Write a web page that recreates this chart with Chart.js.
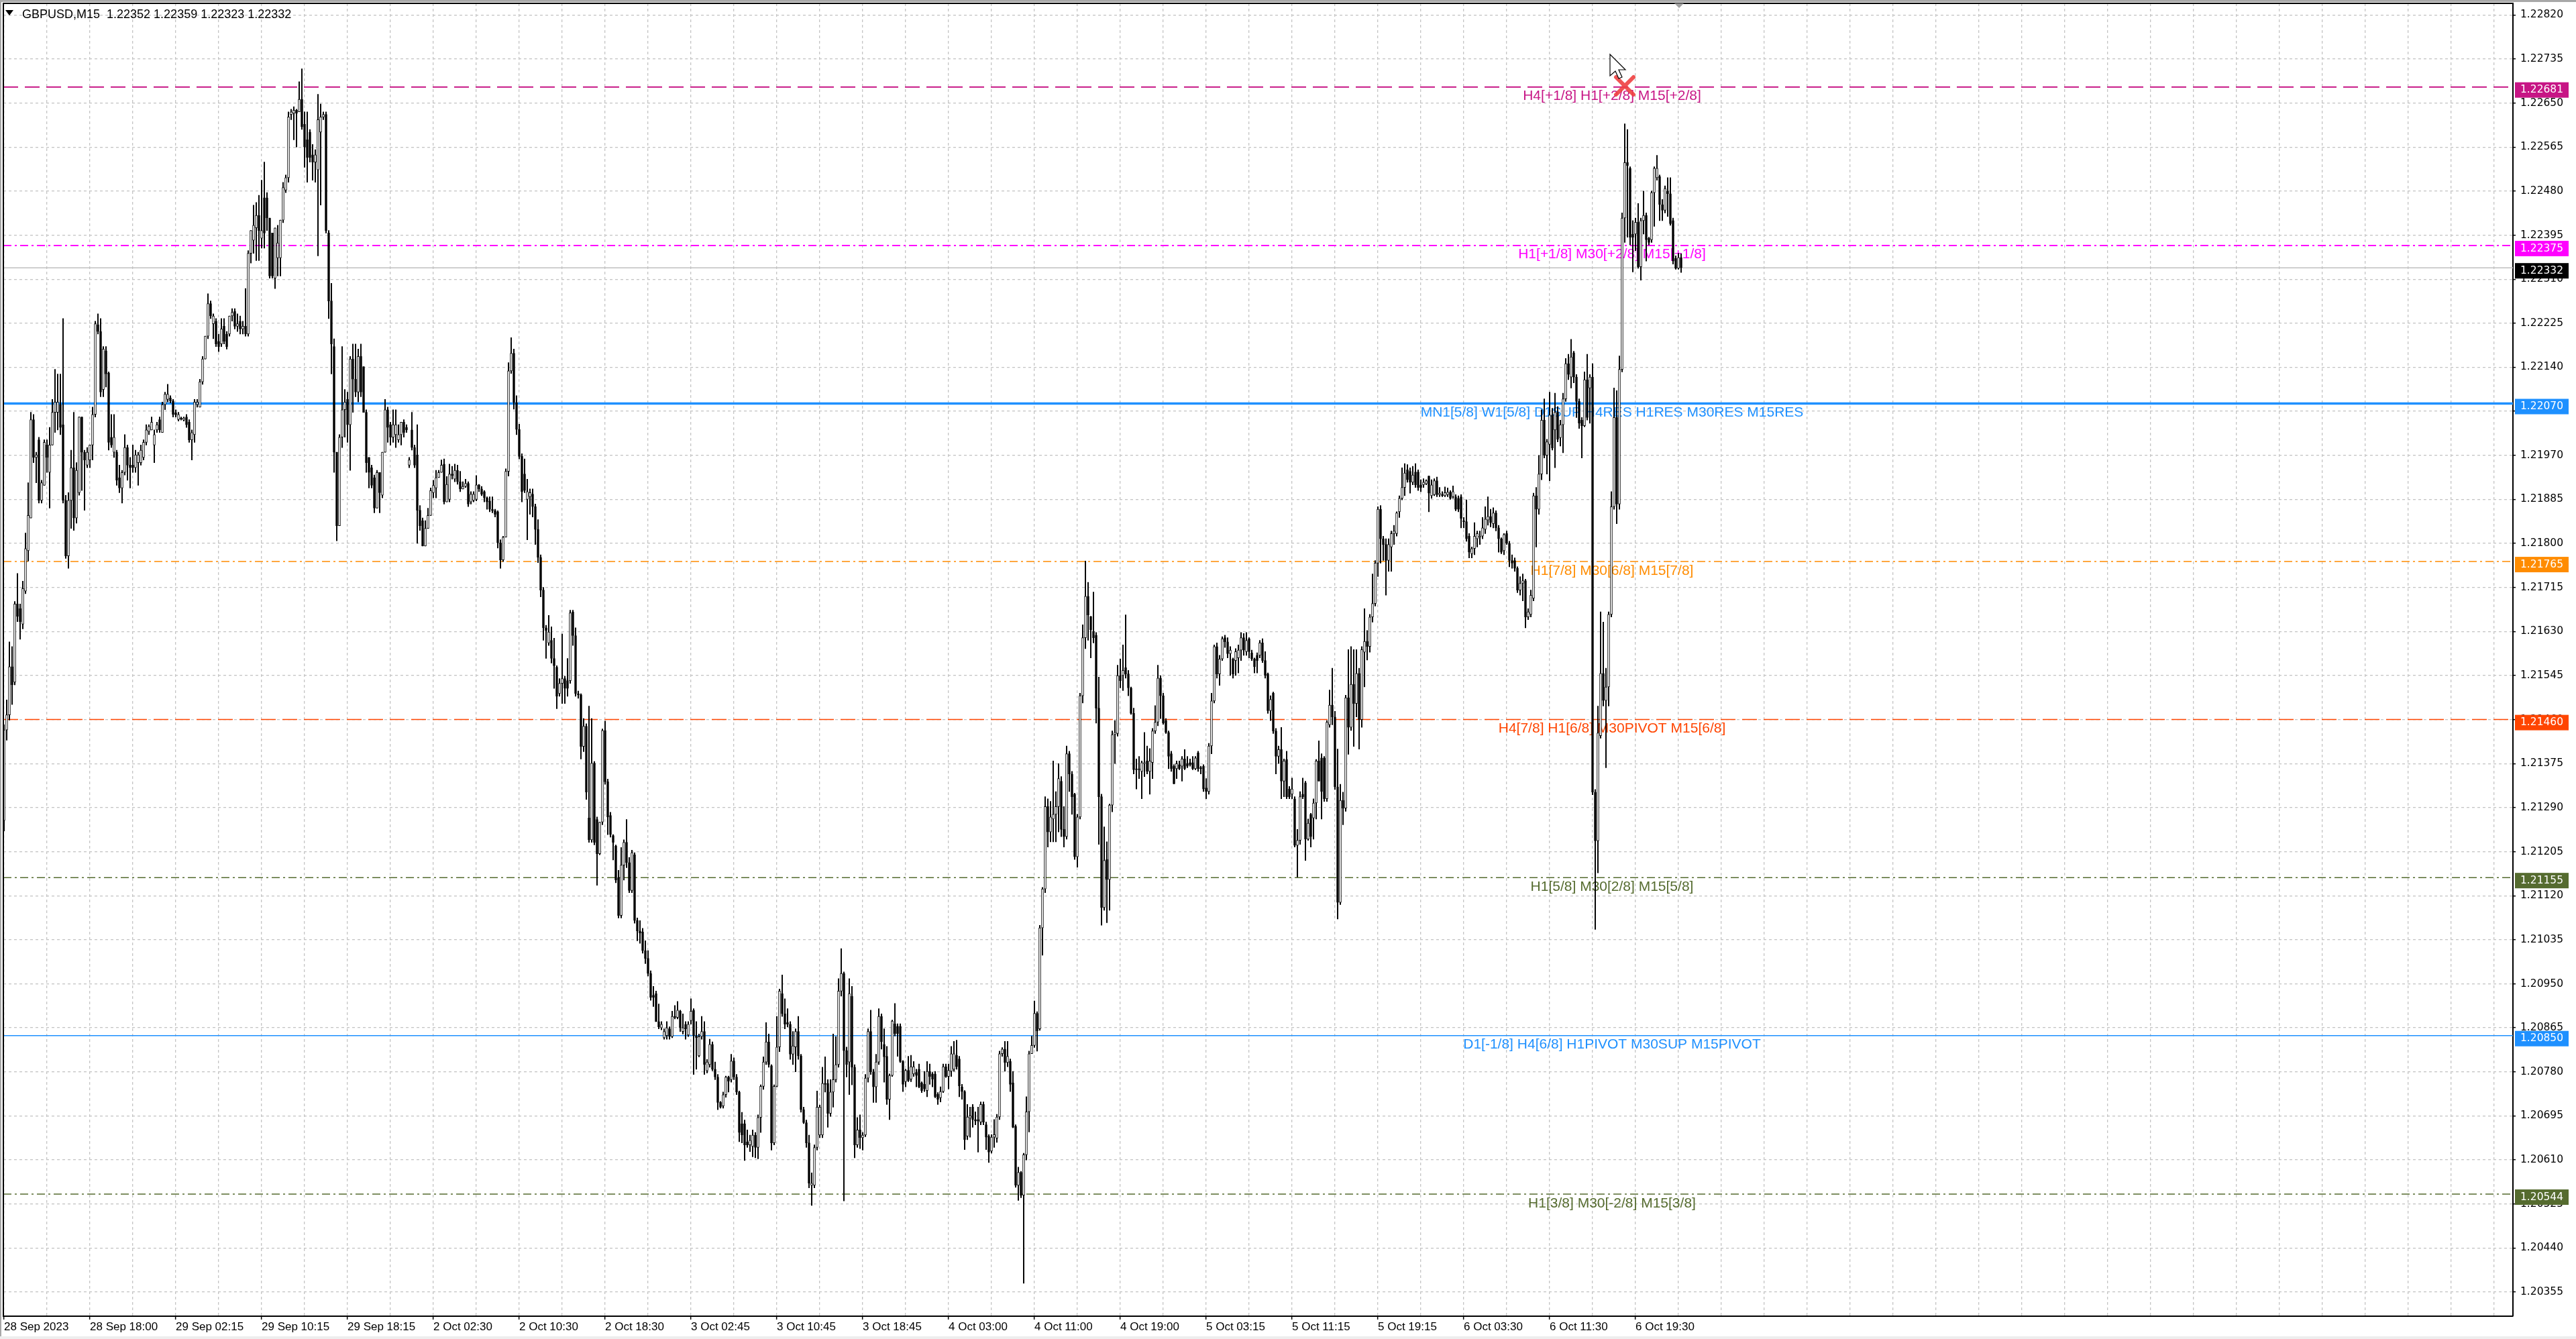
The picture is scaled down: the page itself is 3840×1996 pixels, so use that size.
<!DOCTYPE html>
<html>
<head>
<meta charset="utf-8">
<title>GBPUSD,M15</title>
<script src="https://cdn.jsdelivr.net/npm/chart.js@4.4.1/dist/chart.umd.min.js"></script>
<style>
  html, body { margin: 0; padding: 0; background: #ffffff; }
  canvas { display: block; }
</style>
</head>
<body>
<canvas id="chartM15" width="3840" height="1996"></canvas>
<script>
const symbolTitle = "GBPUSD,M15  1.22352 1.22359 1.22323 1.22332";
const bidPrice = 1.22332;

// one label every 32 bars (8 hours of M15 candles)
const timeLabels = ["28 Sep 2023", "28 Sep 18:00", "29 Sep 02:15", "29 Sep 10:15", "29 Sep 18:15",
  "2 Oct 02:30", "2 Oct 10:30", "2 Oct 18:30", "3 Oct 02:45", "3 Oct 10:45", "3 Oct 18:45",
  "4 Oct 03:00", "4 Oct 11:00", "4 Oct 19:00", "5 Oct 03:15", "5 Oct 11:15", "5 Oct 19:15",
  "6 Oct 03:30", "6 Oct 11:30", "6 Oct 19:30"];

const priceTicks = [1.20355, 1.20440, 1.20525, 1.20610, 1.20695, 1.20780, 1.20865, 1.20950, 1.21035,
  1.21120, 1.21205, 1.21290, 1.21375, 1.21460, 1.21545, 1.21630, 1.21715, 1.21800, 1.21885, 1.21970,
  1.22055, 1.22140, 1.22225, 1.22310, 1.22395, 1.22480, 1.22565, 1.22650, 1.22735, 1.22820];

const levelPrices = [1.22681, 1.22375, 1.22070, 1.21765, 1.21460, 1.21155, 1.20850, 1.20544];
const levelTexts = [
  "H4[+1/8] H1[+2/8] M15[+2/8]",
  "H1[+1/8] M30[+2/8] M15[+1/8]",
  "MN1[5/8] W1[5/8] D1SUP H4RES H1RES M30RES M15RES",
  "H1[7/8] M30[6/8] M15[7/8]",
  "H4[7/8] H1[6/8] M30PIVOT M15[6/8]",
  "H1[5/8] M30[2/8] M15[5/8]",
  "D1[-1/8] H4[6/8] H1PIVOT M30SUP M15PIVOT",
  "H1[3/8] M30[-2/8] M15[3/8]"
];

const opens = [
1.21265,1.21440,1.21469,1.21562,1.21532,1.21683,1.21674,1.21644,1.21708,1.21786,
1.21849,1.22039,1.21966,1.22000,1.21883,1.21912,1.21990,1.21937,1.21990,1.22053,
1.22053,1.22068,1.22029,1.21883,1.21776,1.21883,1.21946,1.21849,1.21898,1.22044,
1.21976,1.21951,1.21961,1.21990,1.22049,1.22222,1.22209,1.22097,1.22172,1.22129,
1.22005,1.21976,1.21976,1.21927,1.21907,1.21937,1.21985,1.21951,1.21951,1.21946,
1.21956,1.21956,1.21966,1.21995,1.22016,1.22019,1.21990,1.22019,1.22039,1.22014,
1.22068,1.22078,1.22081,1.22075,1.22052,1.22039,1.22042,1.22038,1.22044,1.22034,
1.22000,1.22010,1.22068,1.22063,1.22112,1.22156,1.22200,1.22263,1.22224,1.22229,
1.22190,1.22185,1.22219,1.22204,1.22204,1.22239,1.22248,1.22219,1.22229,1.22214,
1.22219,1.22204,1.22360,1.22385,1.22409,1.22433,1.22389,1.22467,1.22467,1.22428,
1.22399,1.22312,1.22351,1.22351,1.22424,1.22482,1.22506,1.22628,1.22630,1.22636,
1.22633,1.22657,1.22609,1.22579,1.22594,1.22550,1.22536,1.22521,1.22594,1.22623,
1.22628,1.22399,1.22268,1.22180,1.21976,1.21834,1.22005,1.22058,1.22078,1.22029,
1.22156,1.22117,1.22092,1.22161,1.22141,1.22053,1.21966,1.21946,1.21927,1.21868,
1.21937,1.21893,1.21976,1.22058,1.22029,1.22005,1.22010,1.22000,1.22010,1.22034,
1.22024,1.21951,1.22019,1.21985,1.21971,1.21864,1.21844,1.21795,1.21829,1.21854,
1.21898,1.21907,1.21927,1.21937,
1.21953,1.21880,1.21885,1.21934,1.21924,1.21941,1.21919,1.21905,1.21910,1.21916,
1.21880,1.21883,1.21885,1.21913,1.21905,1.21900,1.21888,1.21882,1.21866,1.21863,
1.21861,1.21801,1.21768,1.21812,1.21939,1.22133,1.22167,1.22072,1.22020,1.21968,
1.21934,1.21885,1.21890,1.21895,1.21871,1.21827,1.21773,1.21710,1.21637,1.21608,
1.21613,1.21578,1.21561,1.21510,1.21530,1.21539,1.21535,1.21535,1.21668,1.21622,
1.21510,1.21508,1.21408,1.21447,1.21270,1.21228,1.21376,1.21267,1.21201,1.21262,
1.21439,1.21340,1.21275,1.21236,1.21216,1.21155,1.21082,1.21179,1.21223,1.21184,
1.21130,1.21199,1.21072,1.21052,1.21050,1.21014,1.20999,1.20970,1.20928,1.20931,
1.20877,1.20865,1.20846,1.20850,1.20863,1.20848,1.20887,1.20885,1.20897,1.20858,
1.20872,1.20851,1.20879,1.20899,1.20850,1.20811,1.20848,1.20858,1.20782,1.20794,
1.20833,1.20785,1.20770,1.20721,1.20714,1.20736,1.20770,1.20765,1.20801,1.20770,
1.20741,1.20680,1.20680,1.20645,1.20639,1.20636,1.20658,1.20634,1.20692,1.20752,
1.20799,1.20838,1.20792,1.20643,1.20752,1.20828,1.20931,1.20892,1.20875,1.20872,
1.20814,1.20828,1.20858,1.20811,1.20707,1.20682,1.20643,1.20561,1.20561,1.20634,
1.20658,1.20658,1.20758,1.20758,1.20700,1.20741,1.20765,1.20794,1.20936,1.20970,
1.20821,1.20799,1.20926,1.20789,1.20639,1.20668,1.20653,1.20658,1.20768,1.20858,
1.20780,1.20751,1.20799,1.20887,1.20833,
1.20810,1.20727,1.20773,1.20873,1.20868,1.20868,1.20800,1.20761,1.20783,1.20766,
1.20776,1.20779,1.20785,1.20759,1.20756,1.20744,1.20781,1.20776,1.20776,1.20737,
1.20730,1.20742,1.20790,1.20771,1.20781,1.20785,1.20812,1.20805,1.20751,1.20742,
1.20656,1.20691,1.20712,1.20688,1.20688,1.20683,1.20717,1.20678,1.20656,1.20627,
1.20654,1.20652,1.20693,1.20815,1.20824,1.20798,1.20800,1.20759,1.20675,1.20561,
1.20586,1.20542,1.20620,1.20703,1.20815,1.20831,1.20893,1.20863,1.21058,1.21133,
1.21292,1.21243,1.21268,1.21277,1.21292,1.21341,1.21248,1.21234,1.21394,1.21355,
1.21316,1.21195,1.21272,1.21506,1.21618,1.21698,1.21659,1.21630,1.21623,1.21482,
1.21311,1.21097,1.21190,1.21151,1.21295,1.21431,1.21433,1.21545,1.21545,1.21560,
1.21548,1.21521,1.21472,1.21365,1.21365,1.21360,1.21375,1.21380,1.21360,1.21377,
1.21438,1.21455,1.21540,1.21506,1.21458,1.21435,1.21394,1.21370,1.21365,1.21373,
1.21370,1.21384,1.21375,1.21377,1.21377,1.21365,1.21396,1.21367,1.21370,1.21328,
1.21321,1.21409,1.21496,1.21601,1.21548,1.21577,1.21618,1.21610,1.21587,1.21577,
1.21574,1.21579,1.21594,1.21618,1.21591,1.21616,1.21589,1.21577,1.21584,1.21584,
1.21608,1.21574,1.21548,1.21477,1.21511,1.21438,1.21389,1.21402,1.21341,1.21383,
1.21326,1.21316,1.21307,1.21217,1.21227,1.21316,1.21338,1.21229,1.21277,1.21270,
1.21299,1.21380,1.21386,1.21386,1.21307,
1.21450,1.21488,1.21465,1.21330,1.21107,1.21304,1.21289,1.21502,1.21445,1.21528,
1.21491,1.21549,1.21460,1.21590,1.21611,1.21601,1.21658,1.21684,1.21762,1.21866,
1.21809,1.21798,1.21767,1.21793,1.21819,1.21819,1.21861,1.21887,1.21908,1.21942,
1.21939,1.21918,1.21938,1.21938,1.21913,1.21913,1.21915,1.21930,1.21892,1.21894,
1.21921,1.21894,1.21894,1.21892,1.21894,1.21899,1.21890,1.21890,1.21887,1.21890,
1.21843,1.21842,1.21814,1.21780,1.21790,1.21809,1.21812,1.21814,1.21827,1.21845,
1.21852,1.21838,1.21859,1.21830,1.21809,1.21786,1.21819,1.21800,1.21767,1.21767,
1.21752,1.21710,1.21723,1.21728,1.21658,1.21663,1.21694,1.21892,1.21866,1.21934,
1.22038,1.21970,1.21991,1.22048,1.22019,1.22053,1.22004,1.22029,1.22079,1.22147,
1.22121,1.22168,1.22121,1.22074,1.22038,1.22027,1.22116,1.22100,1.22121,1.21320,
1.21226,1.21429,1.21549,1.21497,1.21523,1.21663,1.21871,1.22043,1.21876,1.22136,
1.22428,1.22535,1.22524,1.22397,1.22397,1.22420,1.22334,1.22423,1.22433,1.22389,
1.22386,1.22477,1.22506,1.22508,1.22454,1.22443,1.22480,1.22475,1.22423,1.22350,
1.22331,1.22352
];

const highs = [
1.21450,1.21498,1.21610,1.21601,1.21688,1.21742,1.21683,1.21727,1.21820,1.21917,
1.22053,1.22049,1.21976,1.22005,1.21922,1.22000,1.22000,1.22024,1.22078,1.22136,
1.22127,1.22127,1.22234,1.21893,1.21898,1.21980,1.22053,1.21956,1.22044,1.22044,
1.21980,1.21985,1.21990,1.22063,1.22229,1.22243,1.22234,1.22180,1.22180,1.22131,
1.22049,1.22049,1.21980,1.21951,1.21941,1.22010,1.21990,1.21966,1.21990,1.21980,
1.21976,1.21990,1.22000,1.22029,1.22029,1.22044,1.22019,1.22034,1.22044,1.22073,
1.22092,1.22107,1.22085,1.22078,1.22058,1.22053,1.22044,1.22044,1.22049,1.22039,
1.22019,1.22078,1.22078,1.22117,1.22161,1.22200,1.22282,1.22268,1.22243,1.22234,
1.22204,1.22234,1.22234,1.22209,1.22239,1.22253,1.22253,1.22243,1.22239,1.22229,
1.22292,1.22365,1.22404,1.22453,1.22458,1.22472,1.22501,1.22536,1.22477,1.22428,
1.22399,1.22409,1.22414,1.22424,1.22497,1.22511,1.22633,1.22638,1.22643,1.22638,
1.22691,1.22716,1.22633,1.22633,1.22599,1.22570,1.22560,1.22667,1.22648,1.22633,
1.22633,1.22404,1.22302,1.22195,1.21976,1.22010,1.22180,1.22097,1.22092,1.22161,
1.22185,1.22185,1.22175,1.22185,1.22141,1.22058,1.21966,1.21951,1.21932,1.21941,
1.21937,1.21976,1.22078,1.22063,1.22034,1.22058,1.22058,1.22029,1.22034,1.22039,
1.22029,1.21966,1.22053,1.21990,1.22029,1.21873,1.21849,1.21844,1.21868,1.21907,
1.21922,1.21941,1.21941,1.21961,
1.21963,1.21929,1.21953,1.21949,1.21953,1.21951,1.21939,1.21919,1.21924,1.21919,
1.21900,1.21900,1.21931,1.21914,1.21910,1.21902,1.21890,1.21890,1.21890,1.21866,
1.21863,1.21807,1.21814,1.21944,1.22149,1.22197,1.22175,1.22085,1.22030,1.21973,
1.21963,1.21924,1.21905,1.21905,1.21876,1.21846,1.21778,1.21715,1.21642,1.21661,
1.21639,1.21617,1.21564,1.21539,1.21625,1.21544,1.21578,1.21671,1.21671,1.21637,
1.21515,1.21510,1.21462,1.21452,1.21486,1.21462,1.21379,1.21272,1.21262,1.21442,
1.21457,1.21345,1.21281,1.21238,1.21218,1.21169,1.21213,1.21228,1.21267,1.21194,
1.21208,1.21203,1.21077,1.21072,1.21057,1.21033,1.21014,1.20975,1.20945,1.20936,
1.20911,1.20877,1.20863,1.20877,1.20867,1.20897,1.20908,1.20916,1.20899,1.20892,
1.20877,1.20877,1.20921,1.20902,1.20877,1.20853,1.20887,1.20877,1.20804,1.20843,
1.20838,1.20799,1.20775,1.20723,1.20741,1.20772,1.20772,1.20814,1.20807,1.20775,
1.20743,1.20702,1.20687,1.20668,1.20658,1.20668,1.20663,1.20697,1.20755,1.20809,
1.20875,1.20853,1.20794,1.20755,1.20887,1.20940,1.20967,1.20921,1.20902,1.20877,
1.20858,1.20863,1.20887,1.20814,1.20712,1.20687,1.20658,1.20585,1.20639,1.20743,
1.20716,1.20789,1.20809,1.20765,1.20765,1.20853,1.20848,1.20960,1.21018,1.20973,
1.20828,1.20960,1.20945,1.20794,1.20692,1.20697,1.20663,1.20775,1.20863,1.20899,
1.20785,1.20814,1.20902,1.20892,1.20863,
1.20829,1.20776,1.20880,1.20912,1.20873,1.20873,1.20802,1.20785,1.20810,1.20812,
1.20800,1.20785,1.20795,1.20761,1.20781,1.20800,1.20795,1.20779,1.20781,1.20740,
1.20751,1.20795,1.20795,1.20795,1.20829,1.20839,1.20841,1.20810,1.20756,1.20744,
1.20717,1.20712,1.20717,1.20703,1.20712,1.20722,1.20722,1.20683,1.20659,1.20659,
1.20688,1.20698,1.20820,1.20827,1.20839,1.20839,1.20805,1.20781,1.20678,1.20596,
1.20588,1.20623,1.20732,1.20820,1.20849,1.20917,1.20896,1.21063,1.21136,1.21311,
1.21307,1.21302,1.21380,1.21321,1.21375,1.21350,1.21292,1.21409,1.21399,1.21360,
1.21318,1.21277,1.21511,1.21643,1.21766,1.21725,1.21659,1.21706,1.21628,1.21542,
1.21316,1.21253,1.21224,1.21297,1.21438,1.21458,1.21565,1.21577,1.21604,1.21662,
1.21555,1.21523,1.21482,1.21384,1.21389,1.21380,1.21435,1.21409,1.21404,1.21443,
1.21487,1.21565,1.21545,1.21511,1.21462,1.21438,1.21399,1.21373,1.21380,1.21380,
1.21389,1.21402,1.21389,1.21384,1.21389,1.21389,1.21399,1.21370,1.21373,1.21346,
1.21414,1.21511,1.21604,1.21608,1.21584,1.21620,1.21623,1.21618,1.21601,1.21579,
1.21597,1.21604,1.21628,1.21626,1.21628,1.21618,1.21594,1.21579,1.21589,1.21613,
1.21616,1.21591,1.21550,1.21506,1.21513,1.21443,1.21409,1.21445,1.21384,1.21399,
1.21331,1.21347,1.21311,1.21248,1.21321,1.21347,1.21341,1.21268,1.21279,1.21307,
1.21383,1.21419,1.21394,1.21389,1.21458,
1.21517,1.21559,1.21476,1.21403,1.21335,1.21320,1.21507,1.21595,1.21601,1.21595,
1.21595,1.21559,1.21601,1.21674,1.21632,1.21663,1.21741,1.21767,1.21871,1.21873,
1.21814,1.21809,1.21809,1.21824,1.21835,1.21861,1.21892,1.21946,1.21954,1.21952,
1.21946,1.21949,1.21954,1.21942,1.21923,1.21925,1.21923,1.21930,1.21923,1.21925,
1.21928,1.21908,1.21900,1.21909,1.21907,1.21902,1.21911,1.21894,1.21892,1.21894,
1.21850,1.21884,1.21819,1.21793,1.21840,1.21824,1.21824,1.21850,1.21871,1.21890,
1.21866,1.21869,1.21863,1.21835,1.21811,1.21819,1.21824,1.21804,1.21778,1.21772,
1.21755,1.21736,1.21741,1.21731,1.21674,1.21710,1.21897,1.21908,1.21970,1.22058,
1.22079,1.22001,1.22092,1.22061,1.22090,1.22064,1.22038,1.22090,1.22157,1.22165,
1.22194,1.22171,1.22126,1.22079,1.22043,1.22131,1.22165,1.22126,1.22147,1.21325,
1.21486,1.21668,1.21648,1.21559,1.21668,1.21900,1.22100,1.22095,1.22162,1.22438,
1.22610,1.22599,1.22527,1.22423,1.22428,1.22456,1.22428,1.22480,1.22438,1.22391,
1.22480,1.22527,1.22549,1.22511,1.22464,1.22490,1.22506,1.22506,1.22428,1.22355,
1.22360,1.22359
];

const lows = [
1.21245,1.21420,1.21459,1.21489,1.21527,1.21649,1.21615,1.21635,1.21703,1.21766,
1.21849,1.21956,1.21917,1.21878,1.21878,1.21912,1.21937,1.21868,1.21990,1.22014,
1.22019,1.22010,1.21878,1.21771,1.21752,1.21829,1.21825,1.21839,1.21893,1.21902,
1.21864,1.21946,1.21946,1.21961,1.22044,1.22204,1.22083,1.22083,1.22102,1.21980,
1.21985,1.21966,1.21912,1.21898,1.21878,1.21932,1.21922,1.21907,1.21937,1.21937,
1.21912,1.21951,1.21961,1.21990,1.22010,1.22019,1.21956,1.22014,1.22014,1.22014,
1.22058,1.22073,1.22071,1.22044,1.22044,1.22036,1.22038,1.22036,1.22024,1.21995,
1.21961,1.21995,1.22063,1.22063,1.22107,1.22156,1.22195,1.22234,1.22195,1.22180,
1.22170,1.22180,1.22185,1.22175,1.22200,1.22229,1.22214,1.22209,1.22204,1.22204,
1.22200,1.22200,1.22341,1.22360,1.22346,1.22346,1.22370,1.22370,1.22404,1.22312,
1.22312,1.22292,1.22316,1.22316,1.22419,1.22477,1.22497,1.22618,1.22579,1.22565,
1.22633,1.22599,1.22526,1.22497,1.22536,1.22501,1.22497,1.22355,1.22453,1.22618,
1.22399,1.22234,1.22127,1.21937,1.21805,1.21834,1.21985,1.22005,1.21995,1.21941,
1.22053,1.22083,1.22073,1.22083,1.22053,1.21937,1.21907,1.21907,1.21859,1.21868,
1.21859,1.21888,1.21976,1.21995,1.21990,1.21995,1.21985,1.21995,1.21990,1.22005,
1.22014,1.21946,1.21980,1.21946,1.21800,1.21825,1.21795,1.21795,1.21829,1.21854,
1.21888,1.21888,1.21927,1.21937,
1.21876,1.21880,1.21880,1.21924,1.21919,1.21914,1.21900,1.21905,1.21908,1.21871,
1.21876,1.21880,1.21882,1.21900,1.21892,1.21880,1.21866,1.21861,1.21859,1.21851,
1.21791,1.21752,1.21765,1.21812,1.21930,1.22128,1.22059,1.22010,1.21963,1.21880,
1.21898,1.21807,1.21856,1.21851,1.21798,1.21763,1.21697,1.21613,1.21578,1.21603,
1.21569,1.21520,1.21481,1.21505,1.21491,1.21491,1.21505,1.21530,1.21603,1.21505,
1.21501,1.21384,1.21398,1.21306,1.21223,1.21223,1.21218,1.21140,1.21199,1.21257,
1.21335,1.21238,1.21233,1.21189,1.21145,1.21077,1.21077,1.21150,1.21174,1.21126,
1.21126,1.21067,1.21033,1.21028,1.21009,1.20989,1.20965,1.20918,1.20906,1.20877,
1.20863,1.20861,1.20843,1.20843,1.20843,1.20846,1.20882,1.20882,1.20858,1.20853,
1.20843,1.20848,1.20872,1.20775,1.20785,1.20809,1.20843,1.20775,1.20778,1.20789,
1.20782,1.20765,1.20707,1.20710,1.20710,1.20731,1.20741,1.20760,1.20765,1.20736,
1.20645,1.20643,1.20609,1.20634,1.20626,1.20616,1.20614,1.20612,1.20663,1.20746,
1.20794,1.20789,1.20629,1.20639,1.20751,1.20819,1.20887,1.20863,1.20867,1.20804,
1.20794,1.20780,1.20804,1.20702,1.20680,1.20634,1.20556,1.20522,1.20556,1.20629,
1.20653,1.20653,1.20741,1.20673,1.20694,1.20712,1.20760,1.20789,1.20926,1.20531,
1.20770,1.20736,1.20755,1.20614,1.20634,1.20632,1.20629,1.20655,1.20760,1.20775,
1.20721,1.20721,1.20794,1.20824,1.20760,
1.20717,1.20688,1.20771,1.20849,1.20810,1.20798,1.20742,1.20751,1.20761,1.20761,
1.20771,1.20751,1.20749,1.20740,1.20742,1.20732,1.20756,1.20751,1.20730,1.20717,
1.20722,1.20740,1.20769,1.20747,1.20771,1.20781,1.20785,1.20732,1.20727,1.20630,
1.20649,1.20654,1.20673,1.20678,1.20625,1.20678,1.20678,1.20630,1.20605,1.20623,
1.20634,1.20644,1.20688,1.20810,1.20781,1.20790,1.20742,1.20672,1.20557,1.20532,
1.20537,1.20372,1.20610,1.20664,1.20815,1.20827,1.20820,1.20860,1.21005,1.21126,
1.21214,1.21224,1.21224,1.21224,1.21243,1.21234,1.21214,1.21229,1.21321,1.21277,
1.21190,1.21175,1.21268,1.21492,1.21597,1.21613,1.21579,1.21608,1.21453,1.21219,
1.21063,1.21092,1.21068,1.21092,1.21282,1.21375,1.21428,1.21521,1.21516,1.21540,
1.21506,1.21470,1.21355,1.21326,1.21346,1.21307,1.21350,1.21355,1.21316,1.21346,
1.21433,1.21448,1.21462,1.21451,1.21433,1.21365,1.21360,1.21336,1.21346,1.21363,
1.21341,1.21363,1.21367,1.21370,1.21363,1.21363,1.21360,1.21355,1.21321,1.21307,
1.21316,1.21394,1.21492,1.21540,1.21526,1.21574,1.21599,1.21579,1.21545,1.21540,
1.21545,1.21550,1.21574,1.21584,1.21584,1.21579,1.21574,1.21550,1.21550,1.21579,
1.21570,1.21540,1.21472,1.21458,1.21433,1.21355,1.21375,1.21307,1.21311,1.21307,
1.21307,1.21307,1.21214,1.21156,1.21219,1.21307,1.21188,1.21227,1.21214,1.21229,
1.21268,1.21341,1.21268,1.21302,1.21302,
1.21445,1.21450,1.21325,1.21075,1.21103,1.21257,1.21283,1.21393,1.21439,1.21408,
1.21465,1.21403,1.21445,1.21523,1.21575,1.21590,1.21648,1.21679,1.21736,1.21762,
1.21767,1.21700,1.21746,1.21746,1.21798,1.21814,1.21850,1.21884,1.21892,1.21918,
1.21897,1.21913,1.21908,1.21902,1.21900,1.21908,1.21913,1.21861,1.21887,1.21892,
1.21890,1.21890,1.21890,1.21890,1.21890,1.21885,1.21887,1.21863,1.21861,1.21830,
1.21830,1.21804,1.21772,1.21772,1.21778,1.21793,1.21798,1.21809,1.21819,1.21835,
1.21832,1.21830,1.21824,1.21783,1.21780,1.21778,1.21798,1.21755,1.21752,1.21746,
1.21705,1.21700,1.21689,1.21637,1.21653,1.21658,1.21689,1.21793,1.21856,1.21923,
1.21965,1.21934,1.21921,1.21980,1.21946,1.21996,1.21988,1.21975,1.22074,1.22116,
1.22100,1.22110,1.22043,1.22022,1.21965,1.22025,1.22038,1.22032,1.21315,1.21055,
1.21164,1.21424,1.21486,1.21367,1.21486,1.21658,1.21866,1.21838,1.21866,1.22131,
1.22381,1.22391,1.22376,1.22324,1.22365,1.22331,1.22308,1.22397,1.22345,1.22376,
1.22381,1.22412,1.22501,1.22423,1.22423,1.22438,1.22431,1.22414,1.22339,1.22329,
1.22329,1.22323
];

const closes = [
1.21440,1.21469,1.21562,1.21527,1.21683,1.21659,1.21649,1.21713,1.21790,1.21854,
1.22039,1.21966,1.21971,1.21883,1.21917,1.21995,1.21966,1.21990,1.22053,1.22073,
1.22073,1.22024,1.21883,1.21776,1.21883,1.21946,1.21849,1.21941,1.22044,1.21976,
1.21961,1.21976,1.21990,1.22049,1.22224,1.22209,1.22092,1.22175,1.22127,1.21995,
1.21990,1.22005,1.21922,1.21907,1.21937,1.21985,1.21951,1.21946,1.21946,1.21971,
1.21971,1.21980,1.21995,1.22019,1.22026,1.22034,1.22010,1.22029,1.22019,1.22068,
1.22088,1.22088,1.22075,1.22049,1.22048,1.22049,1.22040,1.22042,1.22029,1.22000,
1.22014,1.22073,1.22073,1.22112,1.22156,1.22200,1.22263,1.22239,1.22239,1.22185,
1.22180,1.22214,1.22190,1.22180,1.22239,1.22246,1.22219,1.22224,1.22214,1.22219,
1.22204,1.22360,1.22404,1.22414,1.22433,1.22404,1.22404,1.22399,1.22428,1.22316,
1.22316,1.22409,1.22380,1.22424,1.22487,1.22506,1.22623,1.22633,1.22636,1.22630,
1.22657,1.22604,1.22565,1.22545,1.22545,1.22536,1.22550,1.22618,1.22623,1.22628,
1.22404,1.22268,1.22185,1.21976,1.21834,1.22005,1.22058,1.22073,1.22029,1.22156,
1.22117,1.22092,1.22161,1.22092,1.22053,1.21956,1.21937,1.21912,1.21868,1.21937,
1.21898,1.21976,1.22058,1.22024,1.22005,1.22029,1.22029,1.22010,1.22034,1.22014,
1.22019,1.21961,1.21985,1.21951,1.21864,1.21834,1.21795,1.21829,1.21854,1.21902,
1.21912,1.21927,1.21937,1.21951,
1.21880,1.21914,1.21934,1.21931,1.21941,1.21919,1.21905,1.21910,1.21916,1.21876,
1.21895,1.21895,1.21913,1.21905,1.21895,1.21888,1.21880,1.21866,1.21863,1.21856,
1.21801,1.21768,1.21812,1.21939,1.22133,1.22167,1.22072,1.22020,1.21968,1.21900,
1.21902,1.21900,1.21898,1.21871,1.21827,1.21773,1.21710,1.21637,1.21632,1.21629,
1.21578,1.21564,1.21505,1.21530,1.21539,1.21520,1.21520,1.21666,1.21622,1.21510,
1.21508,1.21408,1.21447,1.21320,1.21228,1.21376,1.21223,1.21201,1.21262,1.21439,
1.21340,1.21272,1.21238,1.21223,1.21150,1.21082,1.21179,1.21223,1.21184,1.21130,
1.21203,1.21072,1.21052,1.21048,1.21014,1.20999,1.20970,1.20924,1.20924,1.20877,
1.20867,1.20872,1.20858,1.20865,1.20848,1.20887,1.20885,1.20899,1.20865,1.20865,
1.20863,1.20872,1.20897,1.20850,1.20846,1.20848,1.20858,1.20794,1.20799,1.20833,
1.20785,1.20770,1.20721,1.20712,1.20736,1.20770,1.20762,1.20801,1.20770,1.20741,
1.20663,1.20658,1.20639,1.20639,1.20648,1.20658,1.20634,1.20692,1.20752,1.20799,
1.20838,1.20794,1.20643,1.20752,1.20828,1.20936,1.20892,1.20872,1.20872,1.20814,
1.20830,1.20858,1.20811,1.20707,1.20682,1.20643,1.20565,1.20565,1.20634,1.20712,
1.20712,1.20758,1.20756,1.20700,1.20741,1.20765,1.20794,1.20936,1.20970,1.20821,
1.20794,1.20931,1.20789,1.20639,1.20668,1.20653,1.20658,1.20768,1.20858,1.20780,
1.20751,1.20799,1.20887,1.20838,1.20809,
1.20727,1.20773,1.20878,1.20854,1.20854,1.20800,1.20756,1.20783,1.20763,1.20790,
1.20790,1.20773,1.20751,1.20744,1.20747,1.20781,1.20771,1.20766,1.20732,1.20727,
1.20742,1.20790,1.20771,1.20783,1.20815,1.20815,1.20790,1.20753,1.20742,1.20649,
1.20693,1.20695,1.20688,1.20685,1.20685,1.20717,1.20683,1.20654,1.20625,1.20654,
1.20659,1.20693,1.20815,1.20824,1.20798,1.20810,1.20756,1.20673,1.20561,1.20586,
1.20542,1.20620,1.20703,1.20815,1.20831,1.20893,1.20859,1.21058,1.21133,1.21292,
1.21243,1.21272,1.21277,1.21292,1.21346,1.21248,1.21234,1.21394,1.21355,1.21311,
1.21195,1.21272,1.21506,1.21618,1.21698,1.21662,1.21633,1.21618,1.21482,1.21311,
1.21097,1.21188,1.21151,1.21295,1.21431,1.21435,1.21545,1.21535,1.21555,1.21548,
1.21521,1.21472,1.21363,1.21363,1.21363,1.21377,1.21377,1.21360,1.21380,1.21438,
1.21455,1.21540,1.21506,1.21453,1.21435,1.21389,1.21365,1.21336,1.21375,1.21365,
1.21384,1.21365,1.21370,1.21373,1.21365,1.21386,1.21365,1.21365,1.21326,1.21321,
1.21409,1.21496,1.21601,1.21548,1.21577,1.21616,1.21610,1.21587,1.21594,1.21548,
1.21591,1.21594,1.21618,1.21594,1.21613,1.21591,1.21577,1.21562,1.21574,1.21608,
1.21574,1.21545,1.21477,1.21499,1.21438,1.21389,1.21402,1.21341,1.21380,1.21311,
1.21311,1.21326,1.21217,1.21227,1.21311,1.21311,1.21229,1.21260,1.21234,1.21299,
1.21380,1.21341,1.21321,1.21307,1.21455,
1.21488,1.21465,1.21330,1.21107,1.21304,1.21289,1.21502,1.21445,1.21528,1.21491,
1.21549,1.21460,1.21595,1.21611,1.21601,1.21658,1.21684,1.21762,1.21866,1.21809,
1.21798,1.21767,1.21798,1.21819,1.21824,1.21859,1.21887,1.21908,1.21936,1.21923,
1.21918,1.21932,1.21913,1.21908,1.21908,1.21918,1.21921,1.21897,1.21913,1.21921,
1.21894,1.21897,1.21892,1.21898,1.21899,1.21887,1.21900,1.21866,1.21866,1.21848,
1.21842,1.21809,1.21783,1.21790,1.21814,1.21819,1.21814,1.21830,1.21847,1.21852,
1.21840,1.21859,1.21830,1.21809,1.21783,1.21817,1.21800,1.21767,1.21762,1.21752,
1.21710,1.21723,1.21728,1.21658,1.21668,1.21700,1.21892,1.21866,1.21934,1.22038,
1.21970,1.21996,1.22048,1.21984,1.22053,1.22001,1.22029,1.22079,1.22147,1.22126,
1.22160,1.22121,1.22074,1.22032,1.22027,1.22116,1.22043,1.22121,1.21320,1.21226,
1.21434,1.21549,1.21497,1.21523,1.21663,1.21871,1.22043,1.21876,1.22136,1.22428,
1.22535,1.22529,1.22391,1.22391,1.22420,1.22334,1.22423,1.22433,1.22386,1.22381,
1.22477,1.22524,1.22524,1.22454,1.22443,1.22485,1.22475,1.22417,1.22345,1.22331,
1.22352,1.22332
];

// ---- styles ----
const levelStyles = [
  { color: "#c71585", dash: [22, 10], width: 2 },
  { color: "#ff00ff", dash: [12, 5, 3, 5], width: 2 },
  { color: "#1e90ff", dash: [], width: 3.5 },
  { color: "#ff8c00", dash: [12, 5, 3, 5], width: 1.5 },
  { color: "#ff4500", dash: [22, 10], width: 1.5 },
  { color: "#556b2f", dash: [12, 5, 3, 5], width: 1.5 },
  { color: "#1e90ff", dash: [], width: 1.5 },
  { color: "#556b2f", dash: [12, 5, 3, 5], width: 1.5 }
];
const levelLabelBar = 599.25;   // level captions are centred on this bar
const gridColor = "#c4c4c4";
const axisFont = "DejaVu Sans";
const textFont = "\"Liberation Sans\", Arial, sans-serif";

const n = Math.min(opens.length, highs.length, lows.length, closes.length);
const barIdx = Array.from({ length: n }, (_, i) => i);

const bodyData = barIdx.map(i => ({ x: i, y: [Math.min(opens[i], closes[i]), Math.max(opens[i], closes[i])] }));
const wickData = barIdx.map(i => ({
  x: i,
  y: [Math.min(lows[i], opens[i], closes[i]), Math.max(highs[i], opens[i], closes[i])]
}));

// no automatic label padding: the plot area has to sit exactly where the terminal puts it
function noPadding(scale) {
  scale.paddingTop = 0;
  scale.paddingBottom = 0;
  scale.paddingLeft = 0;
  scale.paddingRight = 0;
}

const mt4Decor = {
  id: "mt4Decor",
  beforeDraw(chart) {
    const { ctx, width, height } = chart;
    ctx.save();
    ctx.fillStyle = "#ffffff";
    ctx.fillRect(0, 0, width, height);
    ctx.restore();
  },
  beforeDatasetsDraw(chart) {
    const { ctx, chartArea: a, scales: { x, y } } = chart;
    ctx.save();
    ctx.beginPath();
    ctx.rect(a.left, a.top, a.right - a.left, a.bottom - a.top);
    ctx.clip();

    // bid line
    const by = y.getPixelForValue(bidPrice);
    ctx.strokeStyle = "#c0c0c0";
    ctx.lineWidth = 1.5;
    ctx.setLineDash([]);
    ctx.beginPath();
    ctx.moveTo(a.left, by);
    ctx.lineTo(a.right, by);
    ctx.stroke();

    const lx = x.getPixelForValue(levelLabelBar);
    levelPrices.forEach((p, i) => {
      const st = levelStyles[i];
      const py = y.getPixelForValue(p);
      ctx.strokeStyle = st.color;
      ctx.lineWidth = st.width;
      ctx.setLineDash(st.dash);
      ctx.beginPath();
      ctx.moveTo(a.left, py);
      ctx.lineTo(a.right, py);
      ctx.stroke();
      ctx.setLineDash([]);
      ctx.fillStyle = st.color;
      ctx.font = "21px " + textFont;
      ctx.textAlign = "center";
      ctx.textBaseline = "alphabetic";
      ctx.fillText(levelTexts[i], lx, py + 19.5);
    });
    ctx.restore();
  },
  afterDraw(chart) {
    const { ctx, chartArea: a, scales: { y }, width, height } = chart;
    ctx.save();

    // window frame bits
    ctx.fillStyle = "#a8a8a8";
    ctx.fillRect(0, 0, width, 3);
    ctx.fillRect(0, 0, 2, height);
    ctx.fillStyle = "#eeeeee";
    ctx.fillRect(0, height - 4, width, 4);

    // left and top border of the plot
    ctx.strokeStyle = "#000000";
    ctx.lineWidth = 2;
    ctx.beginPath();
    ctx.moveTo(a.left, a.bottom);
    ctx.lineTo(a.left, a.top);
    ctx.lineTo(a.right, a.top);
    ctx.stroke();

    // header
    ctx.fillStyle = "#000000";
    ctx.beginPath();
    ctx.moveTo(8, 15);
    ctx.lineTo(20, 15);
    ctx.lineTo(14, 23);
    ctx.closePath();
    ctx.fill();
    ctx.font = "18px " + textFont;
    ctx.textAlign = "left";
    ctx.textBaseline = "alphabetic";
    ctx.fillText(symbolTitle, 33, 27);

    // chart shift marker
    ctx.fillStyle = "#a0a0a0";
    ctx.beginPath();
    ctx.moveTo(2496, a.top);
    ctx.lineTo(2510, a.top);
    ctx.lineTo(2503, a.top + 7);
    ctx.closePath();
    ctx.fill();

    // price boxes on the axis
    const boxes = levelPrices.map((p, i) => ({ p, color: levelStyles[i].color }));
    boxes.push({ p: bidPrice, color: "#000000" });
    ctx.font = "15.5px " + axisFont;
    ctx.textBaseline = "middle";
    boxes.forEach(b => {
      const py = y.getPixelForValue(b.p);
      ctx.fillStyle = b.color;
      ctx.fillRect(a.right + 3, py - 7, 80, 23);
      ctx.fillStyle = "#ffffff";
      ctx.fillText(b.p.toFixed(5), a.right + 11, py + 4.5);
    });

    // red close mark and mouse pointer
    ctx.strokeStyle = "rgba(238, 64, 64, 0.9)";
    ctx.lineWidth = 6;
    ctx.lineCap = "round";
    ctx.beginPath();
    ctx.moveTo(2409, 115); ctx.lineTo(2435, 141);
    ctx.moveTo(2435, 115); ctx.lineTo(2409, 141);
    ctx.stroke();
    ctx.lineCap = "butt";
    ctx.fillStyle = "#ffffff";
    ctx.strokeStyle = "#000000";
    ctx.lineWidth = 1.2;
    ctx.beginPath();
    ctx.moveTo(2400, 81);
    ctx.lineTo(2400, 113);
    ctx.lineTo(2408, 106);
    ctx.lineTo(2413, 117);
    ctx.lineTo(2418, 115);
    ctx.lineTo(2413, 104);
    ctx.lineTo(2423, 104);
    ctx.closePath();
    ctx.fill();
    ctx.stroke();
    ctx.restore();
  }
};

new Chart(document.getElementById("chartM15"), {
  type: "bar",
  data: {
    datasets: [{
      label: "body",
      data: bodyData,
      stack: "candle",
      order: 0,
      barThickness: 3,
      minBarLength: 1.5,
      borderWidth: 1,
      borderSkipped: false,
      borderColor: "#000000",
      backgroundColor: ctx => {
        const i = ctx.dataIndex;
        if (i === undefined) return "#000000";
        return closes[i] >= opens[i] ? "#ffffff" : "#000000";
      }
    }, {
      label: "wick",
      data: wickData,
      stack: "candle",
      order: 1,
      barThickness: 1.3,
      borderWidth: 0,
      backgroundColor: "#000000"
    }]
  },
  options: {
    responsive: false,
    devicePixelRatio: 1,
    animation: false,
    events: [],
    layout: { padding: { left: 5, top: 5, right: 0, bottom: 0 }, autoPadding: false },
    plugins: { legend: { display: false }, tooltip: { enabled: false } },
    scales: {
      x: {
        type: "linear",
        position: "bottom",
        min: -0.25,
        max: 935,
        stacked: true,
        offset: false,
        afterFit: scale => { scale.height = 34; noPadding(scale); },
        afterBuildTicks: scale => {
          const t = [];
          for (let v = 0; v <= 928; v += 16) t.push({ value: v });
          scale.ticks = t;
        },
        ticks: {
          autoSkip: false,
          maxRotation: 0,
          minRotation: 0,
          align: "start",
          padding: 1,
          color: "#000000",
          font: { family: textFont, size: 17 },
          callback: value => (value % 32 === 0 && value / 32 < timeLabels.length) ? timeLabels[value / 32] : ""
        },
        grid: {
          offset: false,
          color: gridColor,
          lineWidth: 1.3,
          tickLength: 5,
          tickWidth: 1.5,
          tickColor: ctx => (ctx.tick && ctx.tick.value % 32 === 0 && ctx.tick.value / 32 < timeLabels.length) ? "#000000" : "rgba(0,0,0,0)"
        },
        border: { display: true, color: "#000000", width: 2, dash: [4, 4] }
      },
      y: {
        type: "linear",
        position: "right",
        min: 1.203084,
        max: 1.228424,
        stacked: false,
        afterFit: scale => { scale.width = 94; noPadding(scale); },
        afterBuildTicks: scale => { scale.ticks = priceTicks.map(v => ({ value: v })); },
        ticks: {
          padding: 7,
          color: "#000000",
          font: { family: axisFont, size: 15.5 },
          callback: value => Number(value).toFixed(5)
        },
        grid: {
          color: gridColor,
          lineWidth: 1.3,
          tickLength: 4,
          tickWidth: 1.5,
          tickColor: "#000000"
        },
        border: { display: true, color: "#000000", width: 2, dash: [4, 4] }
      }
    }
  },
  plugins: [mt4Decor]
});
</script>
</body>
</html>
